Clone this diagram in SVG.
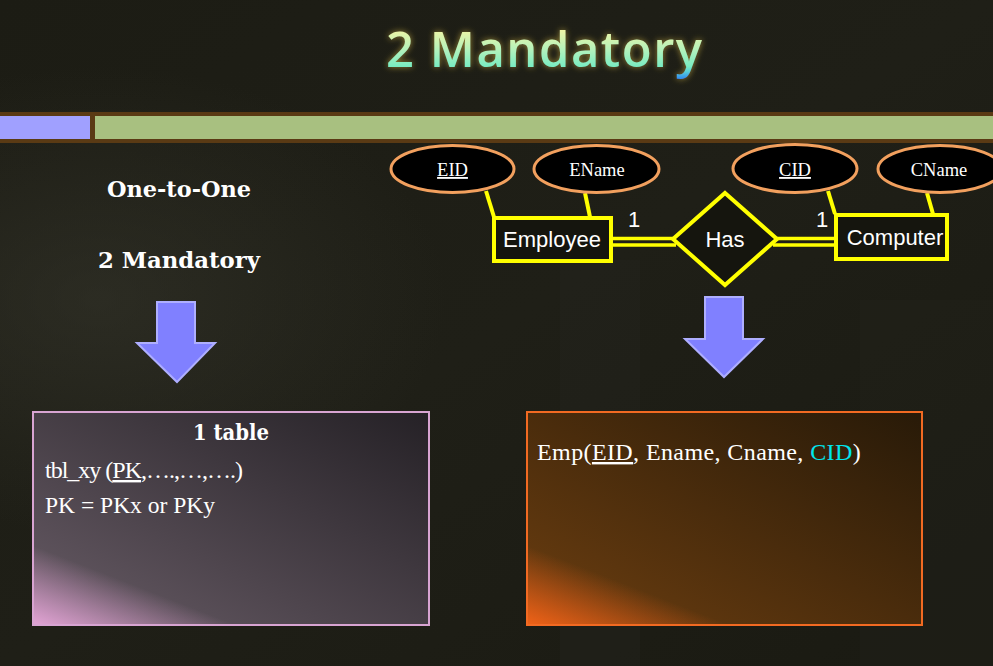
<svg xmlns="http://www.w3.org/2000/svg" width="993" height="666" viewBox="0 0 993 666">
  <defs>
    <style>
      .attr { fill: #000; stroke: #f2a05e; stroke-width: 3; }
      .attrText { font-family: "Liberation Serif", serif; font-size: 18.5px; fill: #ffffff; text-anchor: middle; }
      .link { stroke: #ffff00; stroke-width: 4; fill: none; }
      .shape { stroke: #ffff00; stroke-width: 4; fill: #15150e; }
      .erText { font-family: "Liberation Sans", Arial, sans-serif; font-size: 22px; fill: #ffffff; text-anchor: middle; }
      .dbl { stroke: #ffff00; stroke-width: 3.5; fill: none; }
      .arrow { fill: #8080ff; stroke: #aeaeff; stroke-width: 2; stroke-linejoin: miter; }
      .label { font-family: "DejaVu Serif", serif; font-weight: bold; font-size: 22px; fill: #ffffff; text-anchor: middle; }
      .body { font-family: "Liberation Serif", serif; font-size: 24px; fill: #ffffff; }
    </style>
    <linearGradient id="bg" x1="0" y1="0" x2="1" y2="1">
      <stop offset="0" stop-color="#1c1c14"/>
      <stop offset="0.5" stop-color="#1f1f17"/>
      <stop offset="1" stop-color="#1a1a12"/>
    </linearGradient>
    <radialGradient id="haze" cx="0.1" cy="0.45" r="0.35">
      <stop offset="0" stop-color="#3a3a30" stop-opacity="0.5"/>
      <stop offset="1" stop-color="#3a3a30" stop-opacity="0"/>
    </radialGradient>
    <linearGradient id="titleFill" gradientUnits="userSpaceOnUse" x1="0" y1="30" x2="0" y2="82">
      <stop offset="0" stop-color="#eef5a6"/>
      <stop offset="0.4" stop-color="#b0f2bc"/>
      <stop offset="0.7" stop-color="#7aecc2"/>
      <stop offset="0.8" stop-color="#58d0d8"/>
      <stop offset="1" stop-color="#1a6cff"/>
    </linearGradient>
    <filter id="glow" x="-10%" y="-40%" width="120%" height="180%">
      <feGaussianBlur in="SourceAlpha" stdDeviation="3" result="b"/>
      <feFlood flood-color="#b09a3a" flood-opacity="0.85"/>
      <feComposite in2="b" operator="in" result="g"/>
      <feMerge><feMergeNode in="g"/><feMergeNode in="SourceGraphic"/></feMerge>
    </filter>
    <linearGradient id="box1Fill" x1="1" y1="0" x2="0" y2="1">
      <stop offset="0" stop-color="#252126"/>
      <stop offset="1" stop-color="#685c66"/>
    </linearGradient>
    <linearGradient id="box1Corner" gradientUnits="userSpaceOnUse" x1="33" y1="625" x2="60" y2="556">
      <stop offset="0" stop-color="#eaa8dc" stop-opacity="0.95"/>
      <stop offset="1" stop-color="#eaa8dc" stop-opacity="0"/>
    </linearGradient>
    <linearGradient id="box2Fill" x1="1" y1="0" x2="0" y2="1">
      <stop offset="0" stop-color="#281a08"/>
      <stop offset="1" stop-color="#6c3e10"/>
    </linearGradient>
    <linearGradient id="box2Corner" gradientUnits="userSpaceOnUse" x1="527" y1="625" x2="554" y2="556">
      <stop offset="0" stop-color="#f86418" stop-opacity="0.95"/>
      <stop offset="1" stop-color="#f86418" stop-opacity="0"/>
    </linearGradient>
  </defs>

  <!-- backdrop -->
  <rect x="0" y="0" width="993" height="666" fill="url(#bg)"/>
  <rect x="0" y="0" width="993" height="666" fill="url(#haze)"/>
  <rect x="560" y="260" width="80" height="406" fill="#262620" opacity="0.35"/>
  <rect x="860" y="300" width="133" height="366" fill="#24241e" opacity="0.3"/>

  <!-- title -->
  <text x="386" y="67" font-family="'Open Sans', 'Noto Sans', sans-serif" font-weight="600" font-size="49" textLength="316" lengthAdjust="spacing" fill="url(#titleFill)" filter="url(#glow)">2 Mandatory</text>

  <!-- header bar -->
  <rect x="0" y="112" width="993" height="31" fill="#5a3a14"/>
  <rect x="0" y="116" width="90" height="23" fill="#a0a0ff"/>
  <rect x="95" y="116" width="898" height="23" fill="#a8c080"/>

  <!-- left notes -->
  <text class="label" x="179" y="197" textLength="144" lengthAdjust="spacingAndGlyphs">One-to-One</text>
  <text class="label" x="179" y="268" textLength="162" lengthAdjust="spacingAndGlyphs">2 Mandatory</text>

  <!-- connectors -->
  <g id="connectors">
    <line class="link" x1="486" y1="191" x2="494" y2="217"/>
    <line class="link" x1="585" y1="193" x2="590" y2="217"/>
    <line class="link" x1="828" y1="191" x2="835" y2="214"/>
    <line class="link" x1="927" y1="193" x2="933" y2="214"/>
    <line class="dbl" x1="613" y1="238.5" x2="673" y2="238.5"/>
    <line class="dbl" x1="613" y1="245" x2="676" y2="245"/>
    <line class="dbl" x1="776" y1="238.5" x2="835" y2="238.5"/>
    <line class="dbl" x1="773" y1="245" x2="835" y2="245"/>
    <text class="erText" x="634" y="227">1</text>
    <text class="erText" x="822" y="227">1</text>
  </g>

  <!-- attributes -->
  <g id="attr-eid">
    <ellipse class="attr" cx="452.5" cy="169" rx="61.5" ry="23.5"/>
    <text class="attrText" x="452.5" y="176" text-decoration="underline">EID</text>
  </g>
  <g id="attr-ename">
    <ellipse class="attr" cx="596.5" cy="169" rx="62.5" ry="23.5"/>
    <text class="attrText" x="597" y="176">EName</text>
  </g>
  <g id="attr-cid">
    <ellipse class="attr" cx="795" cy="168.5" rx="62" ry="24"/>
    <text class="attrText" x="795" y="176" text-decoration="underline">CID</text>
  </g>
  <g id="attr-cname">
    <ellipse class="attr" cx="940" cy="169" rx="62" ry="23.5"/>
    <text class="attrText" x="939" y="176">CName</text>
  </g>

  <!-- entities and relationship -->
  <g id="entity-employee">
    <rect class="shape" x="494" y="218" width="117" height="43"/>
    <text class="erText" x="552" y="247">Employee</text>
  </g>
  <g id="relationship-has">
    <polygon class="shape" points="725,193 777,239 725,285 673,239"/>
    <text class="erText" x="725" y="247">Has</text>
  </g>
  <g id="entity-computer">
    <rect class="shape" x="836" y="215" width="111" height="44"/>
    <text class="erText" x="895" y="245">Computer</text>
  </g>

  <!-- down arrows -->
  <g id="arrow-left">
    <polygon class="arrow" points="157,302 195,302 195,343 215,343 177,382 137,343 157,343"/>
  </g>
  <g id="arrow-right">
    <polygon class="arrow" points="705,297 743,297 743,339 763,339 724,377 685,339 705,339"/>
  </g>

  <!-- general rule box -->
  <g id="box-rule">
    <rect x="33" y="412" width="396" height="213" fill="url(#box1Fill)"/>
    <rect x="33" y="412" width="396" height="213" fill="url(#box1Corner)"/>
    <rect x="33" y="412" width="396" height="213" fill="none" stroke="#d8a4d2" stroke-width="2"/>
    <text class="label" x="231" y="440" font-size="21" textLength="76" lengthAdjust="spacingAndGlyphs">1 table</text>
    <text class="body" x="45" y="478" font-size="22" letter-spacing="-1">tbl_xy (<tspan text-decoration="underline">PK</tspan>,….,…,….)</text>
    <text class="body" x="45" y="513" textLength="170" lengthAdjust="spacingAndGlyphs">PK = PKx or PKy</text>
  </g>

  <!-- example box -->
  <g id="box-example">
    <rect x="527" y="412" width="395" height="213" fill="url(#box2Fill)"/>
    <rect x="527" y="412" width="395" height="213" fill="url(#box2Corner)"/>
    <rect x="527" y="412" width="395" height="213" fill="none" stroke="#f26a22" stroke-width="2"/>
    <text class="body" x="537" y="460" font-size="25" letter-spacing="0.4">Emp(<tspan text-decoration="underline">EID</tspan>, Ename, Cname, <tspan fill="#00e6ee">CID</tspan>)</text>
  </g>
</svg>
